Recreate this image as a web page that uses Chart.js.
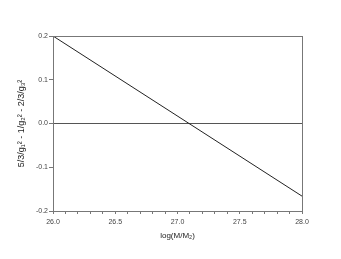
<!DOCTYPE html>
<html>
<head>
<meta charset="utf-8">
<script src="https://cdn.jsdelivr.net/npm/chart.js@4/dist/chart.umd.min.js"></script>
<style>
  html, body { margin: 0; padding: 0; background: #fff; }
  #box { width: 341px; height: 259px; }
</style>
</head>
<body>
<div id="box"><canvas id="myChart"></canvas></div>
<script>
const logM = [26.0, 28.0];
const couplingCombo = [0.2, -0.166];
const xTicks = [26.0, 26.5, 27.0, 27.5, 28.0];
const yTicks = [-0.2, -0.1, 0.0, 0.1, 0.2];

const axisColor = '#777';
const textColor = '#444';

// box round the plot area (top and right edges)
const frame = {
  id: 'frame',
  afterDraw(chart) {
    const { ctx, chartArea: a } = chart;
    ctx.save();
    ctx.strokeStyle = axisColor;
    ctx.lineWidth = 1;
    ctx.strokeRect(a.left + 0.5, a.top + 0.5, a.right - a.left, a.bottom - a.top);
    ctx.restore();
  }
};

const ctx = document.getElementById('myChart').getContext('2d');

new Chart(ctx, {
  type: 'line',
  data: {
    datasets: [{
      data: logM.map((x, i) => ({ x, y: couplingCombo[i] })),
      borderColor: '#222',
      borderWidth: 1,
      pointRadius: 0,
      tension: 0
    }]
  },
  options: {
    responsive: true,
    maintainAspectRatio: false,
    animation: false,
    layout: { padding: { left: 13, top: 36, right: 39, bottom: 14 } },
    plugins: { legend: { display: false }, tooltip: { enabled: false } },
    scales: {
      x: {
        type: 'linear',
        min: 26.0,
        max: 28.0,
        afterBuildTicks: s => {
          const t = [];
          for (let i = 0; i <= 20; i++) t.push({ value: 26 + i * 0.1 });
          s.ticks = t;
        },
        afterFit: s => { s.height = 34; },
        border: { color: axisColor },
        grid: { drawOnChartArea: false, tickLength: 3, tickColor: axisColor },
        ticks: {
          autoSkip: false,
          maxRotation: 0,
          padding: 4,
          color: textColor,
          font: { family: 'Liberation Sans, Arial, sans-serif', size: 7 },
          callback: v => {
            const hit = xTicks.find(t => Math.abs(t - v) < 1e-6);
            return hit !== undefined ? hit.toFixed(1) : '';
          }
        },
        title: {
          display: true,
          text: 'log(M/M\u2082)',
          color: '#222',
          font: { family: 'Liberation Sans, Arial, sans-serif', size: 8 },
          padding: { top: 4, bottom: 4 }
        }
      },
      y: {
        min: -0.2,
        max: 0.2,
        afterBuildTicks: s => { s.ticks = yTicks.map(v => ({ value: v })); },
        afterFit: s => { s.width = 40; },
        border: { color: axisColor },
        grid: {
          tickLength: 4,
          tickColor: axisColor,
          color: c => (c.tick && Math.abs(c.tick.value) < 1e-9) ? '#555' : 'rgba(0,0,0,0)'
        },
        ticks: {
          padding: 1,
          color: textColor,
          font: { family: 'Liberation Sans, Arial, sans-serif', size: 7 },
          callback: v => v.toFixed(1)
        },
        title: {
          display: true,
          text: '5/3/g\u2081\u00b2 - 1/g\u2082\u00b2 - 2/3/g\u2083\u00b2',
          color: '#222',
          font: { family: 'Liberation Sans, Arial, sans-serif', size: 9 },
          padding: { top: 3, bottom: 3 }
        }
      }
    }
  },
  plugins: [frame]
});
</script>
</body>
</html>
